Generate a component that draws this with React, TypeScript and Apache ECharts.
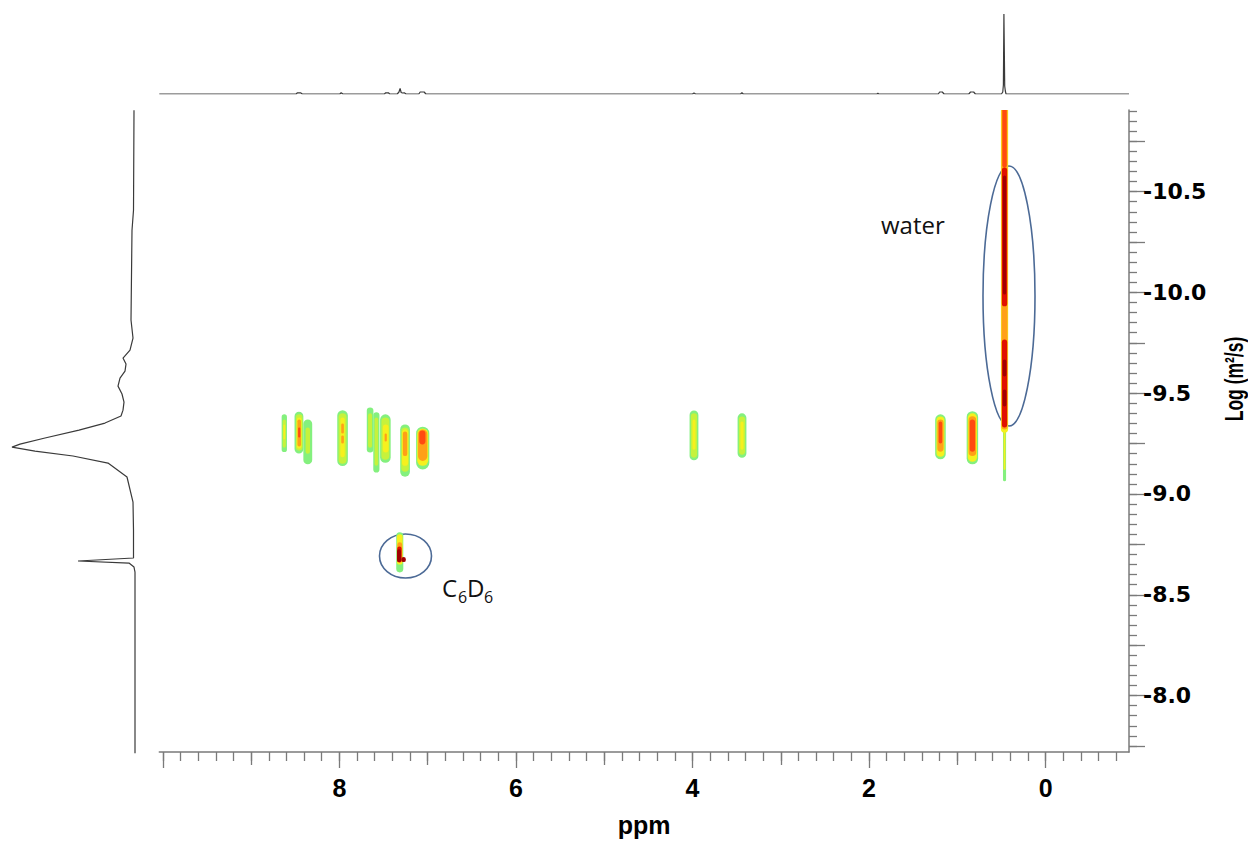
import React, { useEffect, useRef } from "react";
import * as echarts from "echarts";

// ---- axis ranges ----
const X_MIN = -0.945;
const X_MAX = 10.04;
const Y_MIN = -10.905;
const Y_MAX = -7.72;

// ---- tick labels ----
const ppmLabelTicks = [8, 6, 4, 2, 0];
const ppmMajorTicks = [10, 8, 6, 4, 2, 0];
const ppmOddTicks = [9, 7, 5, 3, 1];
const logDLabelTicks = [-10.5, -10.0, -9.5, -9.0, -8.5, -8.0];
const logDMajorTicks = [-10.75, -10.5, -10.25, -10, -9.75, -9.5, -9.25, -9, -8.75, -8.5, -8.25, -8, -7.75];

function steps(a: number, b: number, s: number): number[] {
  const out: number[] = [];
  const n = Math.round((b - a) / s);
  for (let i = 0; i <= n; i++) out.push(Math.round((a + i * s) * 1000) / 1000);
  return out;
}
const ppmMinorTicks = steps(-0.8, 10, 0.2);
const logDMinorTicks = steps(-10.9, -7.75, 0.05);

// ---- DOSY contour layers: [ppm, logD top, logD bottom, width (ppm), level] ----
const levelColors = ["#84f07e", "#c6f23c", "#f6f01e", "#ffa018", "#ff4a10", "#e01000", "#a00000"];

const aromaticContours: number[][] = [
  [8.624, -9.395, -9.208, 0.06, 0],
  [8.624, -9.37, -9.23, 0.035, 1],
  [8.624, -9.345, -9.271, 0.02, 2],
  [8.458, -9.408, -9.201, 0.1, 0],
  [8.455, -9.395, -9.215, 0.075, 1],
  [8.455, -9.38, -9.225, 0.055, 2],
  [8.455, -9.37, -9.236, 0.04, 3],
  [8.455, -9.33, -9.28, 0.025, 4],
  [8.358, -9.37, -9.147, 0.1, 0],
  [8.358, -9.33, -9.2, 0.05, 1],
  [7.964, -9.416, -9.139, 0.12, 0],
  [7.964, -9.4, -9.15, 0.09, 1],
  [7.964, -9.38, -9.182, 0.05, 2],
  [7.964, -9.35, -9.3, 0.03, 3],
  [7.964, -9.29, -9.25, 0.03, 3],
  [7.652, -9.429, -9.206, 0.075, 0],
  [7.652, -9.4, -9.23, 0.045, 1],
  [7.581, -9.406, -9.106, 0.07, 0],
  [7.581, -9.38, -9.14, 0.04, 1],
  [7.479, -9.395, -9.155, 0.12, 0],
  [7.479, -9.38, -9.17, 0.09, 1],
  [7.475, -9.345, -9.206, 0.065, 2],
  [7.475, -9.3, -9.26, 0.025, 3],
  [7.256, -9.345, -9.086, 0.11, 0],
  [7.256, -9.33, -9.11, 0.085, 1],
  [7.256, -9.32, -9.14, 0.07, 2],
  [7.256, -9.31, -9.188, 0.05, 3],
  [7.056, -9.334, -9.122, 0.15, 0],
  [7.056, -9.325, -9.14, 0.125, 2],
  [7.056, -9.32, -9.164, 0.105, 3],
  [7.06, -9.315, -9.246, 0.07, 4],
];

const aliphaticContours: number[][] = [
  [3.983, -9.414, -9.167, 0.1, 0],
  [3.983, -9.4, -9.18, 0.07, 1],
  [3.983, -9.37, -9.22, 0.035, 2],
  [3.439, -9.4, -9.18, 0.1, 0],
  [3.439, -9.385, -9.195, 0.07, 1],
  [3.439, -9.36, -9.22, 0.035, 2],
  [1.191, -9.395, -9.172, 0.12, 0],
  [1.191, -9.385, -9.185, 0.09, 2],
  [1.191, -9.37, -9.21, 0.07, 3],
  [1.191, -9.36, -9.25, 0.04, 4],
  [0.829, -9.411, -9.147, 0.13, 0],
  [0.829, -9.4, -9.16, 0.105, 2],
  [0.829, -9.386, -9.188, 0.085, 3],
  [0.829, -9.37, -9.21, 0.06, 4],
];

const waterContours: number[][] = [
  [0.465, -9.33, -9.063, 0.035, 0],
  [0.465, -10.92, -9.305, 0.082, 2],
  [0.465, -9.32, -9.12, 0.02, 2],
  [0.465, -10.92, -9.32, 0.068, 3],
  [0.465, -10.92, -10.62, 0.05, 4],
  [0.465, -10.62, -9.931, 0.06, 5],
  [0.465, -9.766, -9.33, 0.06, 5],
  [0.465, -10.58, -9.99, 0.035, 6],
  [0.465, -9.667, -9.583, 0.04, 6],
  [0.465, -9.518, -9.434, 0.04, 6],
];

const solventContours: number[][] = [
  [7.316, -8.81, -8.611, 0.08, 0],
  [7.316, -8.8, -8.65, 0.065, 2],
  [7.316, -8.76, -8.66, 0.055, 3],
  [7.32, -8.74, -8.66, 0.05, 5],
  [7.324, -8.726, -8.662, 0.045, 6],
  [7.272, -8.687, -8.662, 0.05, 6],
];

// ---- 1D projections ----
// top: [ppm, intensity]
const topSpectrum: number[][] = [
  [10.04, 0], [8.49, 0], [8.475, 1.2], [8.44, 1.2], [8.42, 0],
  [7.995, 0], [7.98, 1.2], [7.96, 0],
  [7.49, 0], [7.475, 1.2], [7.445, 1.2], [7.43, 0],
  [7.345, 0], [7.325, 2], [7.312, 5.5], [7.3, 1.5], [7.285, 1], [7.265, 1.2], [7.245, 0],
  [7.1, 0], [7.085, 2], [7.04, 2], [7.02, 0],
  [4.0, 0], [3.983, 1], [3.965, 0],
  [3.455, 0], [3.44, 1.3], [3.425, 0],
  [1.91, 0], [1.9, 0.8], [1.89, 0],
  [1.215, 0], [1.2, 2], [1.17, 2], [1.15, 0],
  [0.87, 0], [0.85, 2], [0.815, 2], [0.795, 0],
  [0.5, 0], [0.485, 2], [0.478, 9], [0.472, 80], [0.468, 80], [0.463, 8], [0.456, 3], [0.448, 0],
  [-0.945, 0],
];
// left: [intensity, logD]
const leftSpectrum: number[][] = [
  [1, -10.904], [1.5, -10.409], [3, -10.31], [4, -9.865], [2, -9.776], [5, -9.716],
  [12, -9.677], [9, -9.647], [10, -9.612], [15, -9.578], [17, -9.538], [13, -9.499],
  [11, -9.459], [12, -9.419], [14, -9.39], [30, -9.355], [56, -9.32], [90, -9.281],
  [115, -9.251], [123, -9.236], [100, -9.216], [62, -9.192], [27, -9.157], [8, -9.088],
  [2, -8.964], [1.5, -8.825], [1.5, -8.687], [57, -8.672], [6, -8.662], [1, -8.642],
  [0, -8.617], [0, -7.72],
];

const AXIS_COLOR = "#7a7a7a";

export default function App() {
  const ref = useRef<HTMLDivElement>(null);
  useEffect(() => {
    if (!ref.current) return;
    const chart = echarts.init(ref.current, undefined, { renderer: "svg" });
    const contours = [...aromaticContours, ...aliphaticContours, ...waterContours, ...solventContours]
      .map((d, i) => ({ d, i }))
      .sort((a, b) => a.d[4] - b.d[4] || a.i - b.i)
      .map((o) => o.d);

    const hiddenAxis = {
      axisLine: { show: false },
      axisTick: { show: false },
      axisLabel: { show: false },
      splitLine: { show: false },
    };

    const option: any = {
      animation: false,
      backgroundColor: "#ffffff",
      grid: [
        { left: 159.3, top: 110, width: 969.7, height: 643.3, containLabel: false },
        { left: 10, top: 110, width: 125, height: 643.3 },
        { left: 159.3, top: 14, width: 969.7, height: 80 },
      ],
      xAxis: [
        {
          type: "value", gridIndex: 0, min: X_MIN, max: X_MAX, inverse: true, position: "bottom",
          axisLine: { show: true, onZero: false, lineStyle: { color: AXIS_COLOR, width: 1.5 } },
          axisTick: { show: true, length: 16, customValues: ppmMajorTicks, lineStyle: { color: AXIS_COLOR, width: 1.3 } },
          axisLabel: {
            show: true, customValues: ppmLabelTicks, margin: 23, color: "#000",
            fontFamily: "Liberation Sans", fontWeight: "bold", fontSize: 25,
          },
          splitLine: { show: false },
          name: "ppm", nameLocation: "middle", nameGap: 60,
          nameTextStyle: { fontFamily: "Liberation Sans", fontWeight: "bold", fontSize: 25, color: "#000" },
        },
        {
          type: "value", gridIndex: 0, min: X_MIN, max: X_MAX, inverse: true, position: "bottom",
          axisLine: { show: false, onZero: false },
          axisTick: { show: true, length: 13, customValues: ppmOddTicks, lineStyle: { color: AXIS_COLOR, width: 1.3 } },
          axisLabel: { show: false }, splitLine: { show: false },
        },
        {
          type: "value", gridIndex: 0, min: X_MIN, max: X_MAX, inverse: true, position: "bottom",
          axisLine: { show: false, onZero: false },
          axisTick: { show: true, length: 9, customValues: ppmMinorTicks, lineStyle: { color: AXIS_COLOR, width: 1.3 } },
          axisLabel: { show: false }, splitLine: { show: false },
        },
        { type: "value", gridIndex: 1, min: 0, max: 125, inverse: true, ...hiddenAxis },
        { type: "value", gridIndex: 2, min: X_MIN, max: X_MAX, inverse: true, ...hiddenAxis },
      ],
      yAxis: [
        {
          type: "value", gridIndex: 0, min: Y_MIN, max: Y_MAX, inverse: true, position: "right",
          axisLine: { show: true, onZero: false, lineStyle: { color: AXIS_COLOR, width: 1.5 } },
          axisTick: { show: true, length: 16, customValues: logDMajorTicks, lineStyle: { color: AXIS_COLOR, width: 1.3 } },
          axisLabel: {
            show: true, customValues: logDLabelTicks, margin: 14, color: "#000",
            fontFamily: "DejaVu Sans", fontWeight: "bold", fontSize: 22,
            formatter: (v: number) => v.toFixed(1),
          },
          splitLine: { show: false },
        },
        {
          type: "value", gridIndex: 0, min: Y_MIN, max: Y_MAX, inverse: true, position: "right",
          axisLine: { show: false, onZero: false },
          axisTick: { show: true, length: 8, customValues: logDMinorTicks, lineStyle: { color: AXIS_COLOR, width: 1.3 } },
          axisLabel: { show: false }, splitLine: { show: false },
        },
        { type: "value", gridIndex: 1, min: Y_MIN, max: Y_MAX, inverse: true, ...hiddenAxis },
        { type: "value", gridIndex: 2, min: 0, max: 80, ...hiddenAxis },
      ],
      series: [
        {
          type: "custom",
          name: "DOSY",
          xAxisIndex: 0,
          yAxisIndex: 0,
          clip: true,
          encode: { x: 0, y: 1 },
          data: contours,
          renderItem: (params: any, api: any) => {
            const ppm = api.value(0);
            const top = api.value(1);
            const bot = api.value(2);
            const w = api.value(3);
            const lvl = api.value(4);
            const p1 = api.coord([ppm + w / 2, top]);
            const p2 = api.coord([ppm - w / 2, bot]);
            const x = Math.min(p1[0], p2[0]);
            const y = Math.min(p1[1], p2[1]);
            const width = Math.abs(p2[0] - p1[0]);
            const height = Math.abs(p2[1] - p1[1]);
            return {
              type: "rect",
              shape: { x, y, width, height, r: Math.min(width, height) / 2 },
              style: { fill: levelColors[lvl] },
            };
          },
        },
        {
          type: "line",
          name: "F1 projection",
          xAxisIndex: 3,
          yAxisIndex: 2,
          data: leftSpectrum,
          symbol: "none",
          lineStyle: { color: "#3a3a3a", width: 1.2 },
        },
        {
          type: "line",
          name: "F2 projection",
          xAxisIndex: 4,
          yAxisIndex: 3,
          data: topSpectrum,
          symbol: "none",
          lineStyle: { color: "#3a3a3a", width: 1.2 },
        },
      ],
      graphic: [
        {
          type: "ellipse",
          shape: { cx: 1009, cy: 296, rx: 26, ry: 130 },
          style: { fill: "none", stroke: "#4c6a96", lineWidth: 1.6 },
        },
        {
          type: "ellipse",
          shape: { cx: 405.5, cy: 556, rx: 26, ry: 22 },
          style: { fill: "none", stroke: "#4c6a96", lineWidth: 1.6 },
        },
        {
          type: "text", x: 881, y: 224,
          style: { text: "water", fontFamily: "Open Sans", fontSize: 24, fill: "#111", align: "left", verticalAlign: "middle" },
        },
        {
          type: "text", x: 442, y: 587,
          style: { text: "C", fontFamily: "Open Sans", fontSize: 24, fill: "#111", align: "left", verticalAlign: "middle" },
        },
        {
          type: "text", x: 458, y: 597,
          style: { text: "6", fontFamily: "Open Sans", fontSize: 16, fill: "#111", align: "left", verticalAlign: "middle" },
        },
        {
          type: "text", x: 467, y: 587,
          style: { text: "D", fontFamily: "Open Sans", fontSize: 24, fill: "#111", align: "left", verticalAlign: "middle" },
        },
        {
          type: "text", x: 484, y: 597,
          style: { text: "6", fontFamily: "Open Sans", fontSize: 16, fill: "#111", align: "left", verticalAlign: "middle" },
        },
        {
          type: "text", x: 1234, y: 379, rotation: Math.PI / 2, scaleX: 0.7,
          style: {
            text: "Log (m²/s)", fontFamily: "Liberation Sans", fontWeight: "bold", fontSize: 25,
            fill: "#000", align: "center", verticalAlign: "middle",
          },
        },
      ],
    };
    chart.setOption(option);
    return () => chart.dispose();
  }, []);
  return (
    <div
      ref={ref}
      style={{ position: "fixed", left: 0, top: 0, width: 1248, height: 842, background: "#fff" }}
    />
  );
}
